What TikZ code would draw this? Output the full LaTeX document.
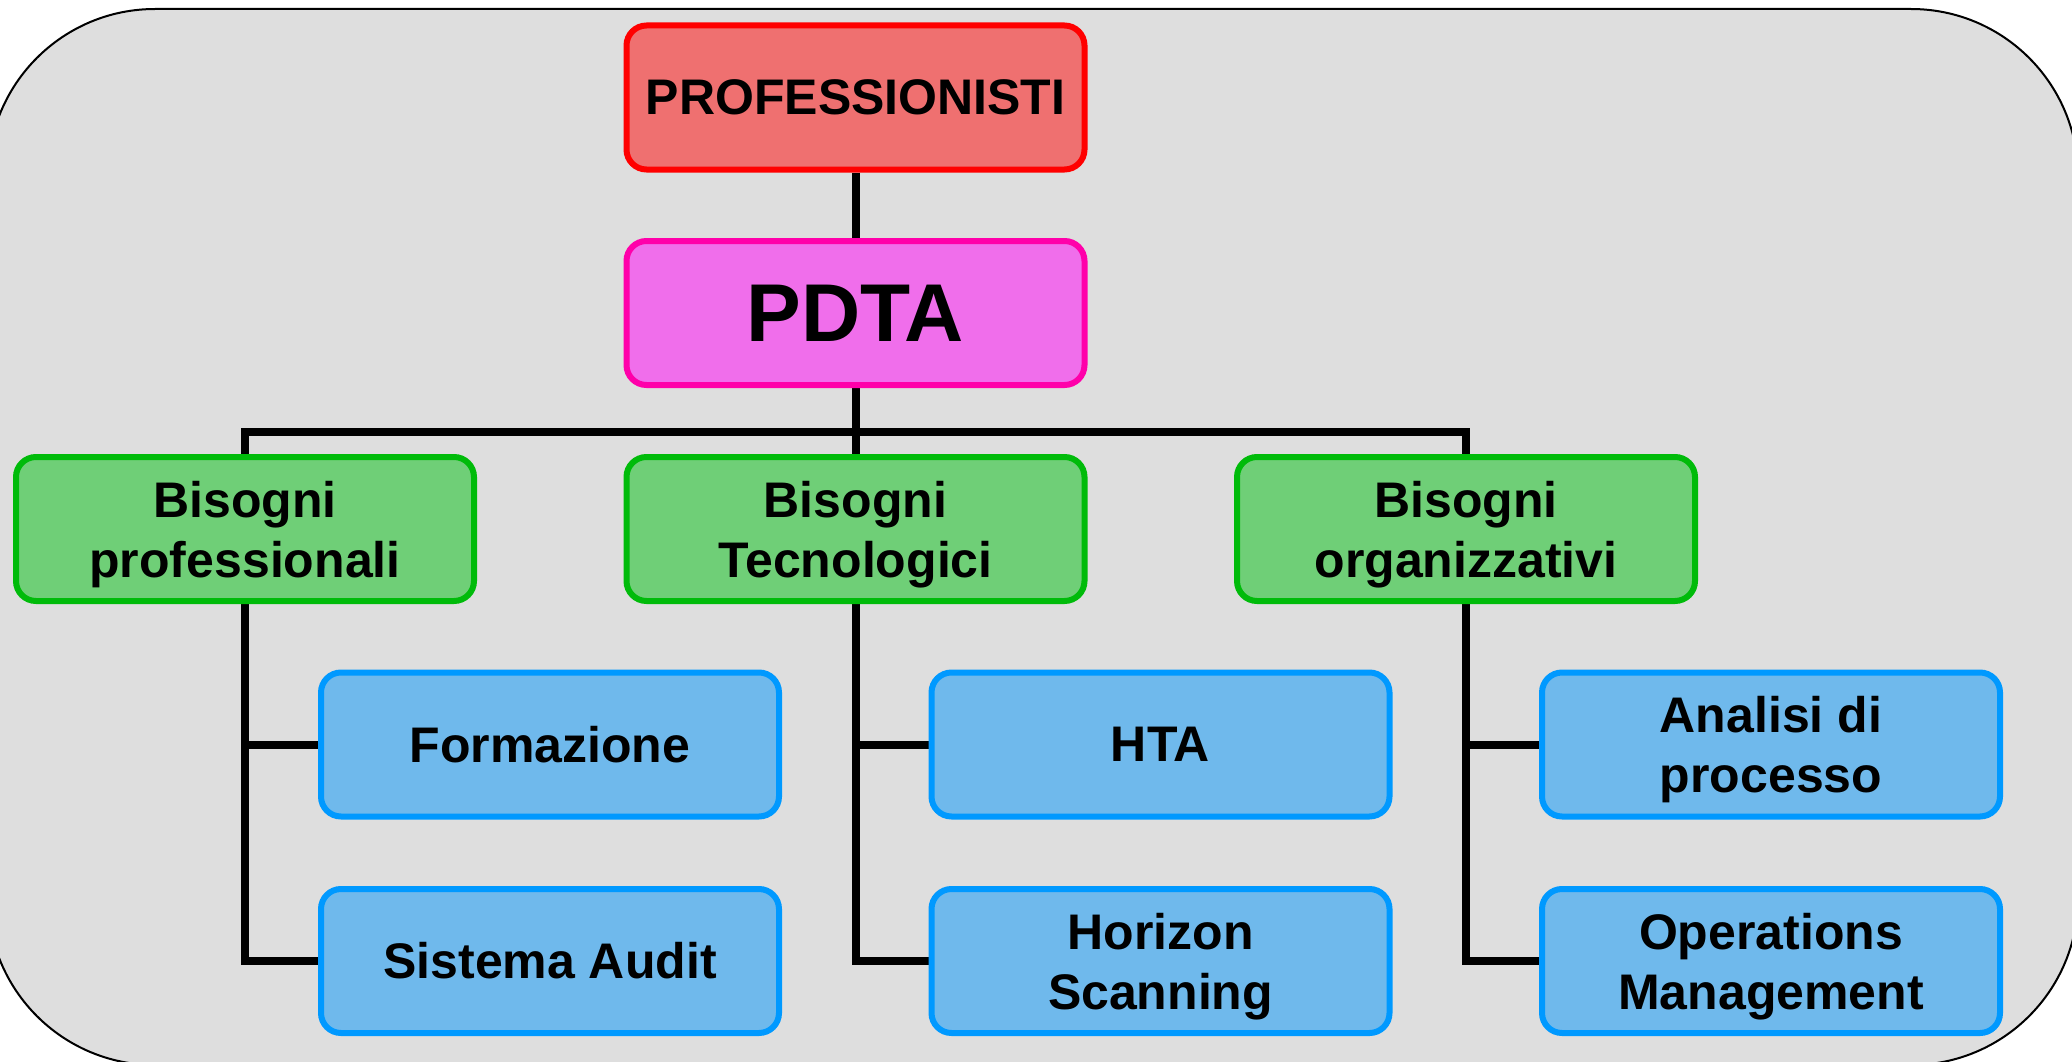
\documentclass[tikz,border=0pt]{standalone}
\usepackage{fontspec}
\setmainfont{Liberation Sans}

\pgfdeclarelayer{back}
\pgfdeclarelayer{wires}
\pgfsetlayers{back,wires,main}

\definecolor{panelgray}{RGB}{222,222,222}
\definecolor{proffill}{RGB}{239,112,112}
\definecolor{profline}{RGB}{255,0,0}
\definecolor{pdtafill}{RGB}{240,110,235}
\definecolor{pdtaline}{RGB}{255,0,170}
\definecolor{needfill}{RGB}{111,207,119}
\definecolor{needline}{RGB}{0,187,10}
\definecolor{itemfill}{RGB}{111,185,236}
\definecolor{itemline}{RGB}{0,153,255}

\begin{document}
\begin{tikzpicture}[x=1pt,y=-1pt,
  box/.style={rectangle, rounded corners=20pt, line width=6pt,
    minimum width=458pt, minimum height=144pt, inner sep=0pt,
    align=center, text=black, font=\fontsize{50}{60}\selectfont\bfseries},
  twoline/.style={text depth=0pt},
  profbox/.style={box, draw=profline, fill=proffill},
  pdtabox/.style={box, draw=pdtaline, fill=pdtafill,
    font=\fontsize{82}{98}\selectfont\bfseries},
  needbox/.style={box, draw=needline, fill=needfill},
  itembox/.style={box, draw=itemline, fill=itemfill},
  wire/.style={line width=8pt, draw=black, line join=miter}
]
\clip (0,0) rectangle (2072,1062);

% rounded panel behind the chart
\begin{pgfonlayer}{back}
  \draw[line width=2pt, fill=panelgray, rounded corners=167pt]
    (-12,9) rectangle (2078,1065);
\end{pgfonlayer}

% top of the hierarchy
\node[profbox] (prof) at (855.5,97.5) {PROFESSIONISTI};
\node[pdtabox] (pdta) at (855.5,313) {PDTA};

% three groups of needs
\node[needbox, twoline] (gprof) at (245,529)   {Bisogni\\professionali};
\node[needbox, twoline] (gtec)  at (855.5,529) {Bisogni\\Tecnologici};
\node[needbox, twoline] (gorg)  at (1466,529)  {Bisogni\\organizzativi};

% items under each group
\node[itembox] (form)  at (550,744.5) {Formazione};
\node[itembox] (audit) at (550,961)   {Sistema Audit};
\node[itembox] (hta)   at (1160.5,744.5) {HTA};
\node[itembox, twoline] (horiz) at (1160.5,961) {Horizon\\Scanning};
\node[itembox, twoline] (anal)  at (1771,744.5) {Analisi di\\processo};
\node[itembox, twoline] (ops)   at (1771,961)   {Operations\\Management};

\coordinate (bus) at (855.5,432);

\begin{pgfonlayer}{wires}
  \draw[wire] (prof.south) -- (pdta.north);
  \draw[wire] (pdta.south) -- (gtec.north);
  \draw[wire] (gprof.north) |- (bus) -| (gorg.north);

  \draw[wire] (gprof.south) |- (audit.west);
  \draw[wire] (gprof.south |- form.west) -- (form.west);

  \draw[wire] (gtec.south) |- (horiz.west);
  \draw[wire] (gtec.south |- hta.west) -- (hta.west);

  \draw[wire] (gorg.south) |- (ops.west);
  \draw[wire] (gorg.south |- anal.west) -- (anal.west);
\end{pgfonlayer}
\end{tikzpicture}
\end{document}
